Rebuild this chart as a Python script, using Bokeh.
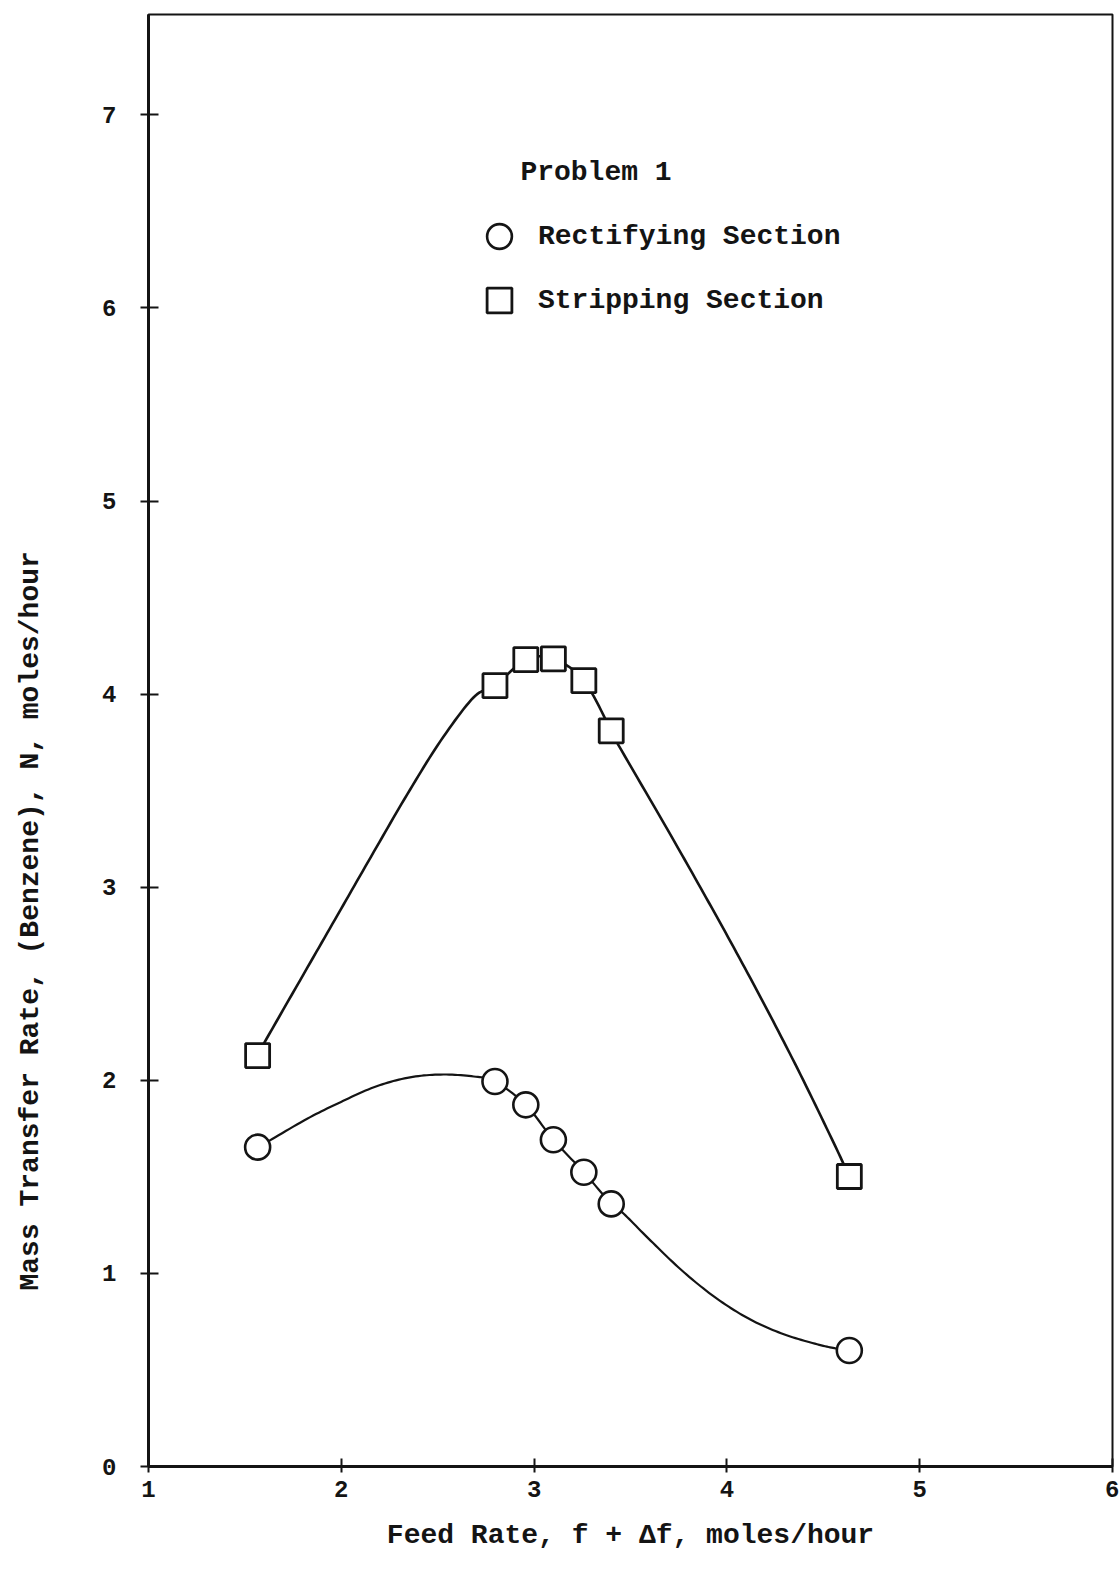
import numpy as np
from bokeh.plotting import figure
from bokeh.models import Legend, LegendItem, Range1d, FixedTicker, Label, Title
from bokeh.embed import file_html
from bokeh.resources import INLINE

# ---- data ----
feed_rate = [1.566, 2.797, 2.957, 3.100, 3.258, 3.400, 4.635]
rectifying = [1.654, 1.994, 1.873, 1.692, 1.524, 1.360, 0.601]
stripping = [2.128, 4.044, 4.179, 4.183, 4.070, 3.810, 1.502]

# hand-drawn smooth curves
strip_left_x = [1.598, 1.823, 1.996, 2.169, 2.342, 2.515, 2.687]
strip_left_y = [2.190, 2.582, 2.883, 3.184, 3.481, 3.758, 3.984]
strip_right_x = [3.439, 3.690, 3.863, 4.036, 4.209, 4.382, 4.554]
strip_right_y = [3.734, 3.302, 2.998, 2.687, 2.365, 2.029, 1.676]
rect_left_x = [1.616, 1.823, 1.996, 2.169, 2.342, 2.515, 2.687]
rect_left_y = [1.681, 1.801, 1.887, 1.964, 2.013, 2.030, 2.020]
rect_right_x = [3.465, 3.604, 3.777, 3.950, 4.122, 4.295, 4.468, 4.572]
rect_right_y = [1.309, 1.170, 1.006, 0.868, 0.761, 0.685, 0.633, 0.610]

x_ticks = [1, 2, 3, 4, 5, 6]
y_ticks = [0, 1, 2, 3, 4, 5, 6, 7]

FONT = "Liberation Mono"
INK = "#141414"


def smooth(xs, ys, n=12):
    """Catmull-Rom drawing of a curve passing through every given point."""
    P = np.column_stack([xs, ys]).astype(float)
    P = np.vstack([P[0] - (P[1] - P[0]), P, P[-1] + (P[-1] - P[-2])])
    out = []
    t = np.linspace(0, 1, n, endpoint=False)[:, None]
    for i in range(1, len(P) - 2):
        p0, p1, p2, p3 = P[i - 1], P[i], P[i + 1], P[i + 2]
        seg = 0.5 * ((2 * p1) + (-p0 + p2) * t + (2 * p0 - 5 * p1 + 4 * p2 - p3) * t ** 2
                     + (-p0 + 3 * p1 - 3 * p2 + p3) * t ** 3)
        out.append(seg)
    out.append(P[-2][None, :])
    c = np.vstack(out)
    return c[:, 0], c[:, 1]


p = figure(width=1119, height=1570, output_backend="svg", toolbar_location=None,
           x_range=Range1d(1, 6), y_range=Range1d(0, 7.52),
           min_border_left=148, min_border_right=7, min_border_top=14, min_border_bottom=104)
p.background_fill_color = "white"
p.border_fill_color = "white"
p.grid.visible = False
p.outline_line_color = INK
p.outline_line_width = 2

for ax, ticks in ((p.xaxis, x_ticks), (p.yaxis, y_ticks)):
    ax.ticker = FixedTicker(ticks=ticks)
    ax.axis_line_width = 3
    ax.axis_line_color = INK
    ax.major_tick_line_color = INK
    ax.major_tick_line_width = 2
    ax.minor_tick_line_color = None
    ax.major_label_text_font = FONT
    ax.major_label_text_font_size = "24px"
    ax.major_label_text_font_style = "bold"
    ax.major_label_text_color = INK

p.xaxis.major_tick_in = 8
p.xaxis.major_tick_out = 6
p.xaxis.major_label_standoff = 8
p.yaxis.major_tick_in = 10
p.yaxis.major_tick_out = 8
p.yaxis.major_label_standoff = 24

p.xaxis.axis_label = "Feed Rate, f + \u0394f, moles/hour"
p.xaxis.axis_label_standoff = 20
p.xaxis.axis_label_text_font = FONT
p.xaxis.axis_label_text_font_size = "28px"
p.xaxis.axis_label_text_font_style = "bold"
p.xaxis.axis_label_text_color = INK

# blank spacer label on the y axis pushes the rotated title out to the page edge
p.yaxis.axis_label = "\u00a0"
p.yaxis.axis_label_standoff = 20
p.yaxis.axis_label_text_font = FONT
p.yaxis.axis_label_text_font_size = "28px"

ytitle = Title(text="Mass Transfer Rate, (Benzene), N, moles/hour", align="left",
               offset=176, standoff=0, text_font=FONT, text_font_size="28px",
               text_font_style="bold", text_color=INK)
p.add_layout(ytitle, "left")

# curves through the points
s_x = [feed_rate[0]] + strip_left_x + feed_rate[1:6] + strip_right_x + [feed_rate[6]]
s_y = [stripping[0]] + strip_left_y + stripping[1:6] + strip_right_y + [stripping[6]]
r_x = [feed_rate[0]] + rect_left_x + feed_rate[1:6] + rect_right_x + [feed_rate[6]]
r_y = [rectifying[0]] + rect_left_y + rectifying[1:6] + rect_right_y + [rectifying[6]]

sx, sy = smooth(s_x, s_y)
rx, ry = smooth(r_x, r_y)
p.line(sx, sy, line_color=INK, line_width=2.6, line_join="round")
p.line(rx, ry, line_color=INK, line_width=2.2, line_join="round")

rc = p.scatter(feed_rate, rectifying, marker="circle", size=25,
               fill_color="white", line_color=INK, line_width=2.6)
sq = p.scatter(feed_rate, stripping, marker="square", size=24,
               fill_color="white", line_color=INK, line_width=2.8)

legend = Legend(items=[LegendItem(label="Rectifying Section", renderers=[rc]),
                       LegendItem(label="Stripping Section", renderers=[sq])],
                location=(320, 1135), padding=0, margin=0, spacing=2,
                glyph_width=62, glyph_height=62, label_standoff=8,
                label_text_font=FONT, label_text_font_size="28px",
                label_text_font_style="bold", label_text_color=INK,
                border_line_color=None, background_fill_alpha=0)
p.add_layout(legend, "center")

p.add_layout(Label(x=2.929, y=6.701, text="Problem 1", text_font=FONT,
                   text_font_size="28px", text_font_style="bold", text_color=INK,
                   text_align="left", text_baseline="middle"))

open("out.html", "w").write(file_html(p, INLINE))
